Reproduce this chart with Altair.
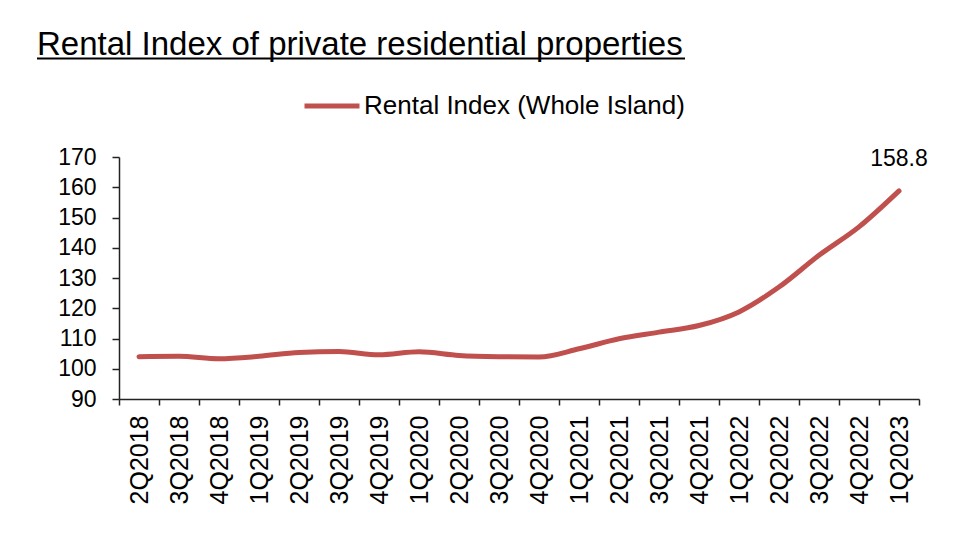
import altair as alt
import pandas as pd

title_text = "Rental Index of private residential properties"
series_name = "Rental Index (Whole Island)"
quarters = ['2Q2018', '3Q2018', '4Q2018', '1Q2019', '2Q2019', '3Q2019', '4Q2019',
            '1Q2020', '2Q2020', '3Q2020', '4Q2020', '1Q2021', '2Q2021', '3Q2021',
            '4Q2021', '1Q2022', '2Q2022', '3Q2022', '4Q2022', '1Q2023']
values = [104.0, 104.1, 103.3, 104.1, 105.4, 105.7, 104.6, 105.6, 104.4, 104.0,
          103.9, 106.6, 109.9, 112.1, 114.3, 118.8, 127.0, 137.5, 146.9, 158.8]
y_ticks = [90, 100, 110, 120, 130, 140, 150, 160, 170]

FONT = "Liberation Sans"
RED = "#C0504D"

df = pd.DataFrame({"quarter": quarters, "value": values, "series": series_name})
last = df.iloc[[-1]].copy()
last["label"] = last["value"].map(lambda v: f"{v:.1f}")

x_enc = alt.X("quarter:N", sort=quarters, bandPosition=0.5,
              scale=alt.Scale(type="band", paddingInner=0, paddingOuter=0),
              axis=alt.Axis(title=None, tickBand="extent", labelAngle=270,
                            labelFont=FONT, labelFontSize=25, labelColor="#000",
                            labelPadding=10, tickSize=6, tickColor="#222",
                            domainColor="#222", domainWidth=1.5, tickWidth=1.5,
                            labelOverlap=False))
y_enc = alt.Y("value:Q", scale=alt.Scale(domain=[90, 170], nice=False, zero=False),
              axis=alt.Axis(title=None, values=y_ticks, tickCount=9, grid=False,
                            labelFont=FONT, labelFontSize=23, labelColor="#000",
                            labelPadding=16, tickSize=7, tickColor="#222",
                            domainColor="#222", domainWidth=1.5, tickWidth=1.5,
                            labelOverlap=False, labelSeparation=0,
                            labelBound=False, labelFlush=False))

line = alt.Chart(df).mark_line(strokeWidth=5, interpolate="monotone",
                               strokeCap="round").encode(
    x=x_enc, y=y_enc,
    color=alt.Color("series:N", scale=alt.Scale(range=[RED]),
                    legend=alt.Legend(title=None, orient="none", legendX=183, legendY=-81,
                                      symbolType="stroke", symbolSize=3025,
                                      symbolStrokeWidth=5, labelFont=FONT,
                                      labelFontSize=26, labelColor="#000",
                                      labelOffset=2, labelLimit=0))
)

label = alt.Chart(last).mark_text(font=FONT, fontSize=23, color="#000", dy=-32).encode(
    x=x_enc, y=y_enc, text="label:N"
)

title_df = pd.DataFrame({"t": [title_text]})
title = alt.Chart(title_df).mark_text(font=FONT, fontSize=33, color="#000",
                                      align="left", baseline="alphabetic").encode(
    x=alt.value(-82), y=alt.value(-102), text="t:N"
)
underline = alt.Chart(title_df).mark_rule(color="#000", strokeWidth=2).encode(
    x=alt.value(-82), x2=alt.value(566), y=alt.value(-98.5)
)

chart = alt.layer(line, label, title, underline).properties(
    width=800, height=242,
    autosize=alt.AutoSizeParams(type="none"),
    padding={"left": 111, "top": 149, "right": 50, "bottom": 150},
    background="white",
).configure_view(stroke=None)

chart.save("out.html", embed_options={"renderer": "svg", "actions": False})
